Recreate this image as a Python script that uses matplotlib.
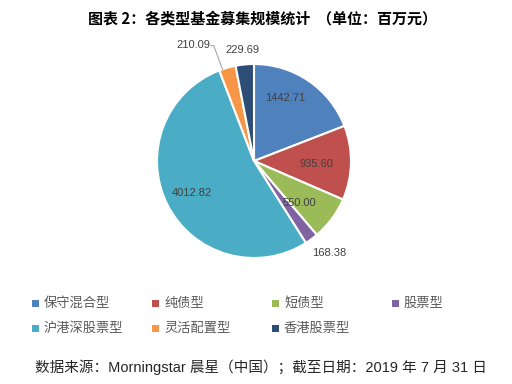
import numpy as np
import matplotlib.pyplot as plt
from matplotlib.patches import Rectangle

plt.rcParams['font.family'] = ['Noto Sans CJK SC', 'DejaVu Sans']

categories = ['保守混合型', '纯债型', '短债型', '股票型', '沪港深股票型', '灵活配置型', '香港股票型']
values = [1442.71, 935.60, 550.00, 168.38, 4012.82, 210.09, 229.69]
colors = ['#4F81BD', '#C0504D', '#9BBB59', '#8064A2', '#4BACC6', '#F79646', '#2C4D75']
value_labels = ['1442.71', '935.60', '550.00', '168.38', '4012.82', '210.09', '229.69']

# label radius (fraction of pie radius) and angle tweak per wedge
label_r = [0.72, 0.64, 0.64, 1.22, 0.72, 1.35, 1.15]
label_da = [8, -2, -6, 3, 1, 11.7, 0.7]

fig = plt.figure(figsize=(5.12, 3.84), dpi=100)
ax = fig.add_axes([157 / 512, 126 / 384, 194 / 512, 194 / 384])
wedges, _ = ax.pie(values, colors=colors, startangle=90, counterclock=False,
                   wedgeprops=dict(edgecolor='white', linewidth=1.5))
ax.set_xlim(-1, 1)
ax.set_ylim(-1, 1)
ax.set_aspect('equal')
ax.axis('off')

for w, txt, r, da in zip(wedges, value_labels, label_r, label_da):
    mid = np.deg2rad((w.theta1 + w.theta2) / 2 + da)
    ax.text(r * np.cos(mid), r * np.sin(mid), txt, ha='center', va='center',
            fontsize=8, color='#404040', family=['Liberation Sans', 'DejaVu Sans'])

# leader line for 210.09
w = wedges[5]
mid = np.deg2rad((w.theta1 + w.theta2) / 2 + 3)
ax.plot([1.0 * np.cos(mid), -0.415, -0.445], [1.0 * np.sin(mid), 1.19, 1.19],
        color='#A6A6A6', lw=0.8, clip_on=False)

fig.text(0.513, 0.953, '图表 2：各类型基金募集规模统计  （单位：百万元）',
         ha='center', va='center', fontsize=10.8, fontweight='bold', color='black')

# legend, 4 equal columns
for i, (name, c) in enumerate(zip(categories, colors)):
    row, col = divmod(i, 4)
    x = 35 + col * 120
    y = 303 + row * 25
    fig.patches.append(Rectangle(((x - 3.5) / 512, 1 - (y + 3.5) / 384), 7 / 512, 7 / 384,
                                 transform=fig.transFigure, facecolor=c, edgecolor='none'))
    fig.text((x + 9) / 512, 1 - y / 384, name, ha='left', va='center',
             fontsize=9.5, color='#595959')

fig.text(35 / 512, 1 - 367 / 384, '数据来源：Morningstar 晨星（中国）；截至日期：2019 年 7 月 31 日',
         ha='left', va='center', fontsize=10.5, color='#262626',
         family=['Liberation Sans', 'Noto Sans CJK SC'])

fig.savefig('out.png', dpi=100)
